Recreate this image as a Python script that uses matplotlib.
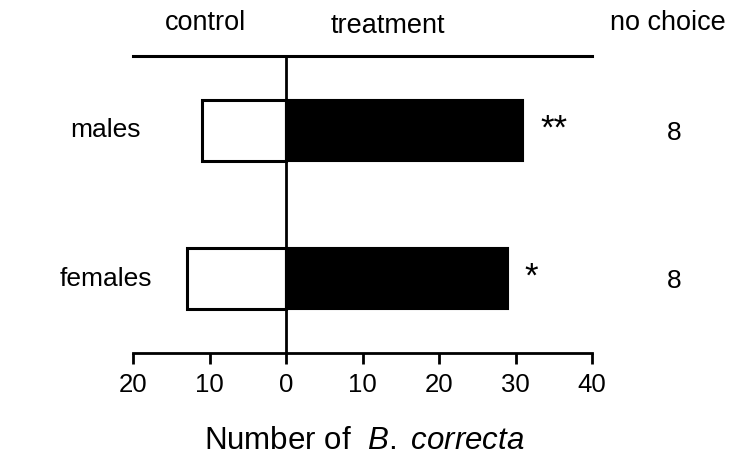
import numpy as np
import matplotlib.pyplot as plt

plt.rcParams['font.family'] = ['Liberation Sans', 'DejaVu Sans']
plt.rcParams['mathtext.fontset'] = 'custom'
plt.rcParams['mathtext.rm'] = 'Liberation Sans'
plt.rcParams['mathtext.it'] = 'Liberation Sans:italic'

# data
groups = ['females', 'males']
control = [13, 11]
treatment = [29, 31]
signif = ['*', '**']
no_choice = [8, 8]
ticks = [-20, -10, 0, 10, 20, 30, 40]
tick_labels = ['20', '10', '0', '10', '20', '30', '40']

fig = plt.figure(figsize=(7.4, 4.72), dpi=100)
ax = fig.add_axes([133 / 740, 0.252, (592 - 133) / 740, 0.881 - 0.252])

ypos = np.array([1, 3])
h = 0.82
ax.barh(ypos, [-c for c in control], height=h, color='white',
        edgecolor='black', linewidth=2.2)
ax.barh(ypos, treatment, height=h, color='black', edgecolor='black',
        linewidth=1.5)
ax.axvline(0, color='black', linewidth=2)

for y, t, s, n in zip(ypos, treatment, signif, no_choice):
    ax.text(t + 2.2, y + 0.02, s, ha='left', va='center', fontsize=25)
    ax.text(50.8, y - 0.03, str(n), ha='center', va='center', fontsize=19,
            clip_on=False)

for y, g in zip(ypos, groups):
    ax.text(-23.6, y, g, ha='center', va='center', fontsize=19,
            clip_on=False)

ax.set_xlim(-20, 40)
ax.set_ylim(0, 4)
ax.set_xticks(ticks)
ax.set_xticklabels(tick_labels, fontsize=18.5)
ax.set_yticks([])
ax.tick_params(axis='x', direction='out', length=8, width=2, pad=6)
for side in ['left', 'right']:
    ax.spines[side].set_visible(False)
ax.spines['top'].set_linewidth(2.2)
ax.spines['bottom'].set_linewidth(2)

fig.text(205 / 740, 1 - 23 / 472, 'control', ha='center', va='center',
         fontsize=19.5)
fig.text(388 / 740, 1 - 26 / 472, 'treatment', ha='center', va='center',
         fontsize=19.5)
fig.text(668 / 740, 1 - 23 / 472, 'no choice', ha='center', va='center',
         fontsize=19.5)
fig.text(364 / 740, 1 - 441 / 472, 'Number of  $\\it{B.\\ correcta}$',
         ha='center', va='center', fontsize=22.5)

fig.savefig('out.png', dpi=100)
